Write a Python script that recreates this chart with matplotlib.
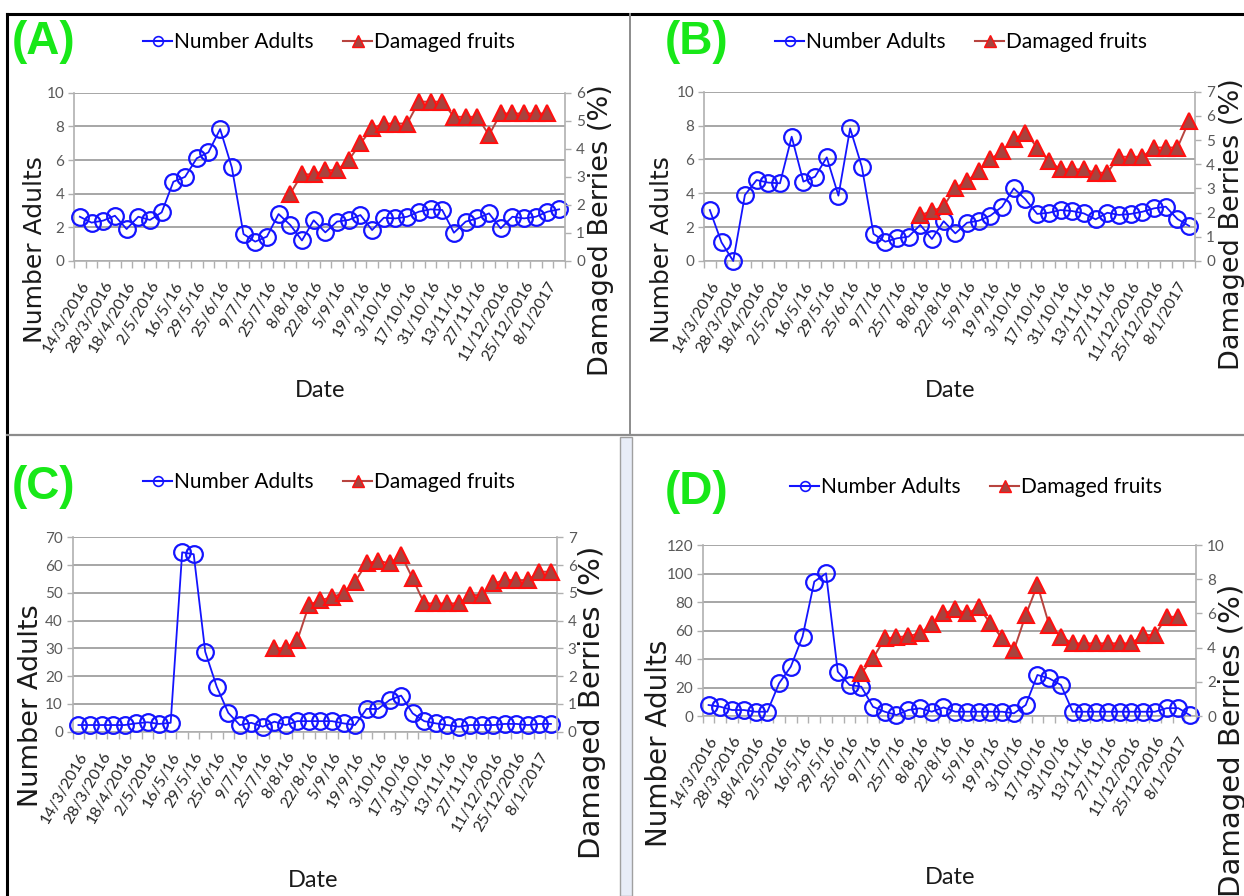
import numpy as np
import matplotlib.pyplot as plt
from matplotlib.lines import Line2D
from matplotlib.patches import Rectangle

W, H = 1244, 896

# category axis: 42 sampling dates, every second one labelled
n_dates = 42
date_labels = ['14/3/2016', '28/3/2016', '18/4/2016', '2/5/2016', '16/5/16', '29/5/16',
               '25/6/16', '9/7/16', '25/7/16', '8/8/16', '22/8/16', '5/9/16', '19/9/16',
               '3/10/16', '17/10/16', '31/10/16', '13/11/16', '27/11/16', '11/12/2016',
               '25/12/2016', '8/1/2017']

# (A)
adults_a = [2.63, 2.28, 2.4, 2.69, 1.9, 2.63, 2.44, 2.89, 4.71, 5.0,
            6.1, 6.46, 7.84, 5.56, 1.6, 1.15, 1.45, 2.79, 2.14, 1.22,
            2.42, 1.7, 2.34, 2.44, 2.73, 1.84, 2.57, 2.53, 2.63, 2.93,
            3.07, 3.03, 1.68, 2.34, 2.53, 2.83, 1.94, 2.63, 2.53, 2.63,
            2.93, 3.07]
damaged_a_start = 18
damaged_a = [2.4, 3.09, 3.09, 3.24, 3.24, 3.6, 4.19, 4.73, 4.9, 4.9, 4.9,
             5.68, 5.68, 5.68, 5.14, 5.14, 5.14, 4.49, 5.26, 5.26, 5.26, 5.26, 5.26]

# (B)
adults_b = [3.01, 1.1, 0.0, 3.9, 4.78, 4.63, 4.59, 7.34, 4.69, 4.98,
            6.12, 3.86, 7.83, 5.57, 1.6, 1.14, 1.34, 1.44, 2.13, 1.3,
            2.35, 1.63, 2.26, 2.38, 2.68, 3.21, 4.29, 3.64, 2.78, 2.85,
            3.01, 2.95, 2.81, 2.46, 2.85, 2.72, 2.78, 2.91, 3.11, 3.21,
            2.48, 2.07]
damaged_b_start = 18
damaged_b = [1.91, 2.05, 2.27, 3.02, 3.3, 3.72, 4.2, 4.55, 5.03, 5.31, 4.69, 4.13,
             3.79, 3.79, 3.79, 3.65, 3.65, 4.31, 4.31, 4.31, 4.69, 4.69, 4.69, 5.8]

# (C)
adults_c = [2.4, 2.4, 2.4, 2.4, 2.4, 3.0, 3.4, 2.8, 3.2, 64.6,
            63.9, 28.8, 16.2, 6.8, 2.4, 3.2, 1.8, 3.6, 2.4, 3.8,
            3.8, 3.8, 3.8, 3.0, 2.4, 8.2, 8.2, 11.4, 13.0, 6.6,
            3.8, 3.0, 2.4, 1.8, 2.4, 2.4, 2.4, 2.8, 2.8, 2.4,
            2.8, 2.8]
damaged_c_start = 17
damaged_c = [3.0, 3.0, 3.3, 4.56, 4.74, 4.84, 5.0, 5.4, 6.06, 6.16, 6.06, 6.36, 5.52,
             4.62, 4.62, 4.62, 4.62, 4.92, 4.92, 5.34, 5.46, 5.46, 5.46, 5.76, 5.76]

# (D)
adults_d = [7.7, 6.5, 4.2, 4.2, 3.0, 3.0, 22.9, 34.6, 55.7, 94.3,
            100.1, 31.1, 21.8, 20.6, 6.5, 3.0, 0.7, 4.2, 5.4, 3.0,
            6.0, 3.0, 3.0, 3.0, 3.0, 3.0, 1.9, 7.7, 28.8, 26.4,
            21.8, 3.0, 3.0, 3.0, 3.0, 3.0, 3.0, 3.0, 3.0, 5.5,
            5.5, 0.5]
damaged_d_start = 13
damaged_d = [2.5, 3.37, 4.54, 4.6, 4.68, 4.83, 5.37, 6.0, 6.24, 6.0, 6.35, 5.42, 4.54,
             3.86, 5.9, 7.66, 5.32, 4.64, 4.25, 4.25, 4.25, 4.25, 4.25, 4.25, 4.74,
             4.74, 5.8, 5.8]

BLUE = '#1414ff'
RED_LINE = '#b8443f'
RED_FILL = '#a8433e'
RED_EDGE = '#ff1010'
GRID = '#a6a6a6'
AXC = '#b0b0b0'
TICKC = '#595959'
GREEN = '#18e818'
SANS = ['Lato', 'DejaVu Sans']


def box(left, top, right, bottom):
    return [left / W, 1 - bottom / H, (right - left) / W, (bottom - top) / H]


def fx(px):
    return px / W


def fy(py):
    return 1 - py / H


fig = plt.figure(figsize=(W / 100, H / 100), dpi=100)
fig.patch.set_facecolor('white')


def draw_panel(rect, adults, d_start, damaged, lmax, lstep, rmax, rstep):
    ax = fig.add_axes(rect)
    x = np.arange(n_dates)
    ax.plot(x, adults, color=BLUE, lw=1.3, marker='o', ms=12, mfc='none',
            mec=BLUE, mew=1.6, clip_on=False, zorder=3)
    ax.set_xlim(-0.5, n_dates - 0.5)
    ax.set_ylim(0, lmax)
    ax.set_yticks(np.arange(0, lmax + 0.01, lstep))
    ax.yaxis.grid(True, color=GRID, lw=1.4)
    ax.set_axisbelow(True)
    ax.set_xticks(x[::2])
    ax.set_xticklabels(date_labels, rotation=60, ha='right', va='top',
                       rotation_mode='anchor', fontsize=11.5, family=SANS,
                       color='#262626')
    ax.set_xticks(np.arange(-0.5, n_dates), minor=True)
    ax.tick_params(axis='x', which='major', length=0, pad=13)
    ax.tick_params(axis='x', which='minor', length=5, color=AXC, width=1)
    ax.tick_params(axis='y', length=4, color=AXC, width=1, pad=3,
                   labelsize=11, labelcolor=TICKC)
    for t in ax.get_yticklabels():
        t.set_family(SANS)
    for s in ['top', 'right']:
        ax.spines[s].set_visible(False)
    for s in ['left', 'bottom']:
        ax.spines[s].set_color(AXC)
        ax.spines[s].set_linewidth(1.2)

    ax2 = ax.twinx()
    xd = np.arange(d_start, d_start + len(damaged))
    ax2.plot(xd, damaged, color=RED_LINE, lw=1.4, marker='^', ms=12,
             mfc=RED_FILL, mec=RED_EDGE, mew=1.5, clip_on=False, zorder=4)
    ax2.set_ylim(0, rmax)
    ax2.set_yticks(np.arange(0, rmax + 0.01, rstep))
    ax2.tick_params(axis='y', length=4, color=AXC, width=1, pad=4,
                    labelsize=11, labelcolor=TICKC)
    for t in ax2.get_yticklabels():
        t.set_family(SANS)
    for s in ['top', 'left', 'bottom']:
        ax2.spines[s].set_visible(False)
    ax2.spines['right'].set_color(AXC)
    ax2.spines['right'].set_linewidth(1.2)
    return ax, ax2


panels = [
    dict(rect=box(74, 92.7, 565, 261), adults=adults_a, d_start=damaged_a_start,
         damaged=damaged_a, lmax=10, lstep=2, rmax=6, rstep=1,
         tag='(A)', tag_xy=(12, 42), leg_xy=(143, 42),
         ylab_xy=(35, 250), ylab_fs=18, rlab_xy=(601, 230), rlab_fs=19.5,
         date_xy=(320, 390)),
    dict(rect=box(704, 91.7, 1195, 261), adults=adults_b, d_start=damaged_b_start,
         damaged=damaged_b, lmax=10, lstep=2, rmax=7, rstep=1,
         tag='(B)', tag_xy=(665, 42), leg_xy=(775, 42),
         ylab_xy=(662, 250), ylab_fs=18, rlab_xy=(1232, 224), rlab_fs=19.5,
         date_xy=(950, 390)),
    dict(rect=box(72.7, 537.3, 556.7, 731.7), adults=adults_c, d_start=damaged_c_start,
         damaged=damaged_c, lmax=70, lstep=10, rmax=7, rstep=1,
         tag='(C)', tag_xy=(12, 487), leg_xy=(143, 482),
         ylab_xy=(31, 706), ylab_fs=19.5, rlab_xy=(592, 702), rlab_fs=21,
         date_xy=(313, 880)),
    dict(rect=box(702.7, 545, 1196, 716), adults=adults_d, d_start=damaged_d_start,
         damaged=damaged_d, lmax=120, lstep=20, rmax=10, rstep=2,
         tag='(D)', tag_xy=(665, 492), leg_xy=(790, 487),
         ylab_xy=(659, 743), ylab_fs=20, rlab_xy=(1232, 740), rlab_fs=21,
         date_xy=(950, 877)),
]

blue_handle = Line2D([], [], color=BLUE, lw=1.5, marker='o', ms=7, mfc='none', mec=BLUE, mew=1.2)
red_handle = Line2D([], [], color=RED_LINE, lw=1.5, marker='^', ms=9, mfc=RED_FILL, mec=RED_EDGE, mew=1)

for p in panels:
    draw_panel(p['rect'], p['adults'], p['d_start'], p['damaged'],
               p['lmax'], p['lstep'], p['rmax'], p['rstep'])
    fig.text(fx(p['tag_xy'][0]), fy(p['tag_xy'][1]), p['tag'], color=GREEN,
             fontsize=33, fontweight='bold', family='Liberation Sans',
             ha='left', va='center')
    fig.legend([blue_handle, red_handle], ['Number Adults', 'Damaged fruits'],
               loc='center left', bbox_to_anchor=(fx(p['leg_xy'][0]), fy(p['leg_xy'][1])),
               ncol=2, frameon=False, handlelength=1.4, handletextpad=0.1,
               columnspacing=1.4, borderpad=0, borderaxespad=0,
               prop={'family': SANS, 'size': 15})
    fig.text(fx(p['ylab_xy'][0]), fy(p['ylab_xy'][1]), 'Number Adults',
             rotation=90, ha='center', va='center', fontsize=p['ylab_fs'],
             family='DejaVu Sans', color='#1a1a1a')
    fig.text(fx(p['rlab_xy'][0]), fy(p['rlab_xy'][1]), 'Damaged Berries (%)',
             rotation=90, ha='center', va='center', fontsize=p['rlab_fs'],
             family='DejaVu Sans', color='#1a1a1a')
    fig.text(fx(p['date_xy'][0]), fy(p['date_xy'][1]), 'Date',
             ha='center', va='center', fontsize=17, family=SANS, color='#1a1a1a')

# frame lines between the four panels
fig.add_artist(Line2D([fx(7), 1], [fy(14.5), fy(14.5)], color='black', lw=2.2))
fig.add_artist(Line2D([fx(7.5), fx(7.5)], [fy(14), 0], color='black', lw=2.2))
fig.add_artist(Line2D([fx(630), fx(630)], [fy(14), fy(435)], color='#8c8c8c', lw=1.4))
fig.add_artist(Line2D([fx(7), 1], [fy(435), fy(435)], color='#8c8c8c', lw=1.6))
fig.add_artist(Rectangle((fx(620), 0), fx(12), fy(437), facecolor='#e8edf8',
                         edgecolor='#a0a0a0', lw=1))

fig.savefig('out.png', dpi=100)
